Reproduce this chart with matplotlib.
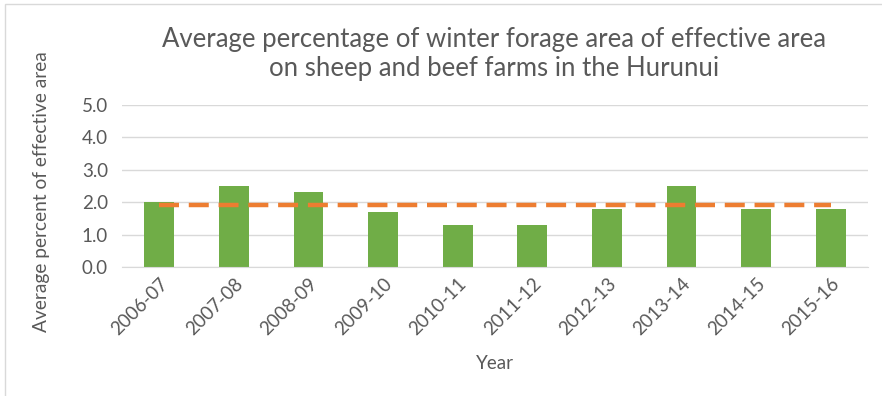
import matplotlib.pyplot as plt
from matplotlib.patches import Rectangle

years = ["2006-07", "2007-08", "2008-09", "2009-10", "2010-11",
         "2011-12", "2012-13", "2013-14", "2014-15", "2015-16"]
pct = [2.0, 2.5, 2.3, 1.7, 1.3, 1.3, 1.8, 2.5, 1.8, 1.8]
avg = sum(pct) / len(pct)

plt.rcParams["font.family"] = ["Lato", "DejaVu Sans"]
grey = "#595959"

fig = plt.figure(figsize=(8.82, 3.96), dpi=100)
ax = fig.add_axes([122 / 882, 1 - 267 / 396, 746 / 882, 162 / 396])

x = list(range(len(years)))
ax.bar(x, pct, width=0.4, color="#70ad47", zorder=2)
ax.plot([x[0], x[-1]], [avg, avg], color="#ed7d31", lw=3.2,
        dashes=(4.5, 2.2), zorder=3)

ax.set_xlim(-0.5, len(years) - 0.5)
ax.set_ylim(0, 5)
ax.set_yticks([0, 1, 2, 3, 4, 5])
ax.set_yticklabels([f"{v:.1f}" for v in [0, 1, 2, 3, 4, 5]])
ax.set_xticks(x)
ax.set_xticklabels(years, rotation=45, ha="right", rotation_mode="anchor")
ax.grid(axis="y", color="#d9d9d9", lw=1, zorder=0)
for s in ["top", "right", "left"]:
    ax.spines[s].set_visible(False)
ax.spines["bottom"].set_color("#d9d9d9")
ax.tick_params(length=0, colors=grey, labelsize=13.5)
ax.tick_params(axis="y", pad=10)
ax.tick_params(axis="x", pad=6)

ax.set_xlabel("Year", color=grey, fontsize=13.5, labelpad=12)
fig.text(42 / 882, 1 - 192 / 396, "Average percent of effective area",
         rotation=90, ha="center", va="center", color=grey, fontsize=13.8)
fig.text(494 / 882, 1 - 54 / 396,
         "Average percentage of winter forage area of effective area\n"
         "on sheep and beef farms in the Hurunui",
         ha="center", va="center", color=grey, fontsize=18.5, linespacing=1.2)

fig.patches.append(Rectangle((5 / 882, -0.1), 1.2, 1 - 4 / 396 + 0.1,
                             transform=fig.transFigure, fill=False,
                             edgecolor="#d9d9d9", lw=1))

fig.savefig("out.png", dpi=100)
